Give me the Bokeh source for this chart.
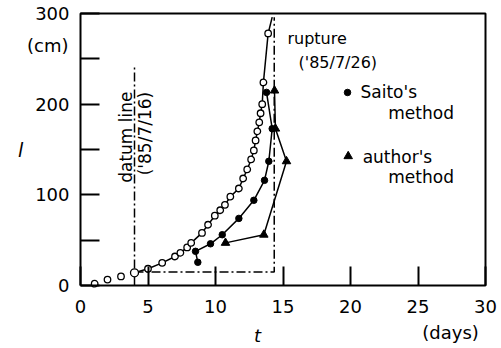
import math
from bokeh.plotting import figure
from bokeh.models import FixedTicker, Label, LinearAxis, Range1d
from bokeh.embed import file_html
from bokeh.resources import INLINE

# observed elongation (open circles)
obs_t = [1.05, 2.0, 3.0, 4.0, 5.0, 6.05, 7.0, 7.4, 7.9, 8.2, 9.0, 9.45, 9.95, 10.35, 10.7,
         11.1, 11.73, 12.05, 12.35, 12.64, 12.84, 12.97, 13.1, 13.24, 13.34, 13.46, 13.55, 13.9]
obs_l = [2, 6.5, 10, 14, 18.5, 25, 32, 36, 42, 47, 58, 67, 77, 83, 89,
         98, 107, 118, 128, 139, 149, 160, 170, 180, 190, 200, 224, 278]
curve_end_t = 14.2
curve_end_l = 296

# Saito's method (filled circles)
saito_t = [8.69, 8.52, 9.63, 10.5, 11.73, 12.84, 13.63, 13.95, 14.2, 13.78]
saito_l = [25.6, 37.7, 46, 56, 74, 94, 116, 137, 173, 213]

# author's method (triangles)
auth_t = [10.74, 13.58, 15.26, 14.44, 14.37]
auth_l = [47, 56, 137, 173, 215]

# reference lines
datum_t = 4.0
datum_top = 242
base_l = 15
rupture_t = 14.35
rupture_top = 296

# axes
t_min, t_max = 0, 30
l_min, l_max = 0, 300
x_ticks = [0, 5, 10, 15, 20, 25, 30]
y_ticks = [0, 50, 100, 150, 200, 250, 300]
y_labels = {0: "0", 50: "", 100: "100", 150: "", 200: "200", 250: "", 300: "300"}

FONT = "DejaVu Sans"
W, H = 501, 348
PX_LEFT, PX_BOTTOM = 80, 285          # pixel position of the (0, 0) corner
PX_PER_DAY = 13.5
PX_PER_CM = 272 / 300

x_range = Range1d(-PX_LEFT / PX_PER_DAY, (W - PX_LEFT) / PX_PER_DAY)
y_range = Range1d(-(H - PX_BOTTOM) / PX_PER_CM, PX_BOTTOM / PX_PER_CM)

p = figure(width=W, height=H, x_range=x_range, y_range=y_range,
           output_backend="svg", toolbar_location=None,
           x_axis_location=None, y_axis_location=None,
           min_border=0, min_border_left=0, min_border_right=0,
           min_border_top=0, min_border_bottom=0)
p.background_fill_color = "white"
p.border_fill_color = "white"
p.grid.visible = False
p.outline_line_color = None

xaxis = LinearAxis(fixed_location=0, bounds=(t_min, t_max))
yaxis = LinearAxis(fixed_location=0, bounds=(l_min, l_max))
p.add_layout(xaxis, "below")
p.add_layout(yaxis, "left")

for ax in (xaxis, yaxis):
    ax.axis_line_color = None
    ax.major_tick_in = 19
    ax.major_tick_out = 0
    ax.major_tick_line_width = 2
    ax.major_tick_line_color = "black"
    ax.minor_tick_line_color = None
    ax.major_label_text_font = FONT
    ax.major_label_text_font_size = "18px"
    ax.major_label_text_color = "black"

xaxis.ticker = FixedTicker(ticks=x_ticks)
xaxis.major_label_standoff = 14
yaxis.ticker = FixedTicker(ticks=y_ticks)
yaxis.major_label_overrides = {k: v for k, v in y_labels.items()}
yaxis.major_label_standoff = 11

# frame box
p.line([t_min, t_max, t_max, t_min, t_min], [l_min, l_min, l_max, l_max, l_min],
       line_color="black", line_width=2)

# dash-dot reference lines
p.line([datum_t, datum_t], [0, datum_top], line_color="black", line_width=1.5,
       line_dash="9 3 2 3")
p.line([datum_t, rupture_t, rupture_t], [base_l, base_l, rupture_top], line_color="black",
       line_width=1.5, line_dash="9 3 2 3")

# fitted curve through observations
p.line(obs_t[3:] + [curve_end_t], obs_l[3:] + [curve_end_l], line_color="black", line_width=1.5)
p.scatter(obs_t, obs_l, marker="circle", size=6.5, fill_color="white", line_color="black",
          line_width=1.3)
p.scatter([obs_t[3]], [obs_l[3]], marker="circle", size=8, fill_color="white",
          line_color="black", line_width=1.3)

# Saito's
p.line(saito_t, saito_l, line_color="black", line_width=1.5)
p.scatter(saito_t, saito_l, marker="circle", size=6.5, fill_color="black", line_color="black")

# author's
p.line(auth_t, auth_l, line_color="black", line_width=1.5)
p.scatter(auth_t, auth_l, marker="triangle", size=8.5, fill_color="black", line_color="black")

# legend markers
p.scatter([19.78], [212.9], marker="circle", size=6.5, fill_color="black", line_color="black")
p.scatter([19.83], [142.6], marker="triangle", size=8.5, fill_color="black", line_color="black")


def lab(x, y, text, size="16px", align="left", baseline="middle", style="normal", angle=0):
    p.add_layout(Label(x=x, y=y, text=text, text_font=FONT, text_font_size=size,
                       text_align=align, text_baseline=baseline, text_font_style=style,
                       text_color="black", angle=angle))


lab(-0.89, 264.7, "(cm)", size="18px", align="right")
lab(-4.44, 149, "l", size="19px", align="center", style="italic")
lab(13.11, -55.5, "t", size="18px", align="center", style="italic")
lab(27.41, -51.8, "(days)", size="18px", align="center")

lab(15.33, 272.4, "rupture")
lab(16.15, 246, "('85/7/26)")
lab(20.74, 212.9, "Saito's", size="17px")
lab(22.8, 190.8, "method", size="17px")
lab(20.9, 141.2, "author's", size="17px")
lab(22.8, 120.2, "method", size="17px")
lab(3.4, 169.6, "datum   line", size="17px", align="center", angle=math.pi / 2)
lab(4.75, 167.6, "('85/7/16)", size="17px", align="center", angle=math.pi / 2)

open("out.html", "w").write(file_html(p, INLINE))
